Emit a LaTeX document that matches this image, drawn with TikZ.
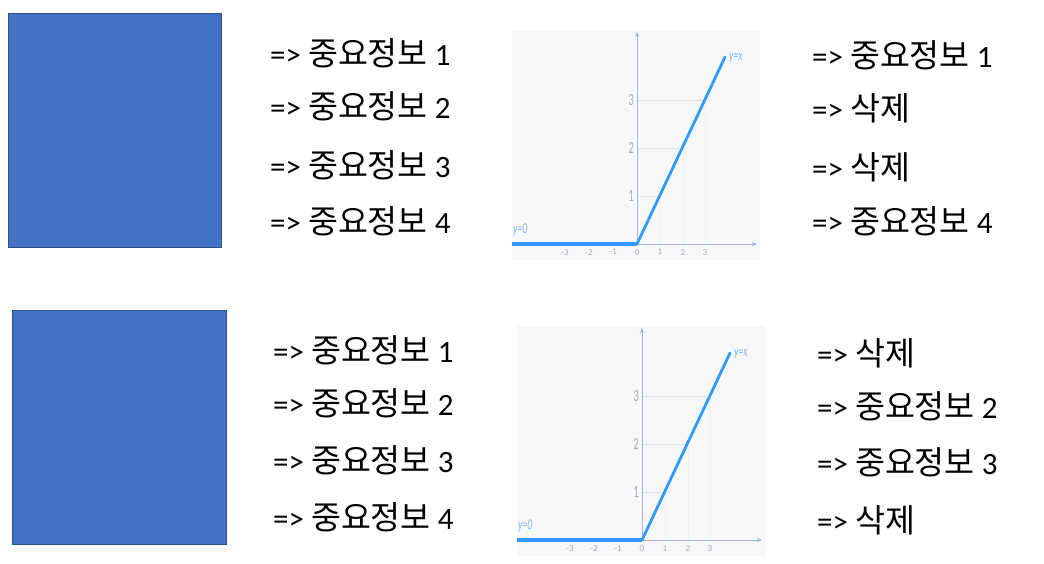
\documentclass[tikz,border=0pt]{standalone}
\usepackage{fontspec}
\setmainfont{Carlito}
\newfontfamily\kr{Noto Sans CJK KR}[Scale=1.05]
\usetikzlibrary{arrows.meta}
\definecolor{boxfill}{HTML}{4472C4}
\definecolor{boxline}{HTML}{2F528F}
\definecolor{relu}{HTML}{3399FF}
\definecolor{reluLbl}{HTML}{7FB8F0}
\definecolor{axisc}{HTML}{A8B4C8}
\definecolor{gridc}{HTML}{DCE2EA}
\definecolor{gridv}{HTML}{ECEFF3}
\definecolor{tickc}{HTML}{A4ACBA}
\definecolor{bgc}{HTML}{F7F7F7}
\begin{document}
\begin{tikzpicture}[x=1pt,y=-1pt,
  blk/.style={draw=boxline, line width=1pt, fill=boxfill, anchor=north west, inner sep=0pt},
  txt/.style={anchor=base west, inner sep=0pt, font=\fontsize{31}{36}\selectfont},
  ticklbl/.style={inner sep=0pt, text=tickc, font=\fontsize{17}{17}\selectfont},
  xticklbl/.style={inner sep=0pt, text=tickc, font=\fontsize{9}{9}\selectfont},
  fnlbl/.style={inner sep=0pt, text=reluLbl, font=\fontsize{15}{15}\selectfont\itshape},
  axisline/.style={draw=axisc, line width=0.8pt, -{Stealth[length=5pt,width=4pt]}},
  gridline/.style={draw=gridc, line width=0.6pt},
  gridvline/.style={draw=gridv, line width=0.5pt}]
\useasboundingbox (0,0) rectangle (1044,563);

% blue boxes
\node[blk, minimum width=213pt, minimum height=234pt] (box1) at (8,13) {};
\node[blk, minimum width=214pt, minimum height=234pt] (box2) at (12,310) {};

% top-left texts
\node[txt] (tl1) at (270,65) {=> {\kr 중요정보} 1};
\node[txt] (tl2) at (270,118) {=> {\kr 중요정보} 2};
\node[txt] (tl3) at (270,177) {=> {\kr 중요정보} 3};
\node[txt] (tl4) at (270,233) {=> {\kr 중요정보} 4};
% top-right texts
\node[txt] (tr1) at (812,67) {=> {\kr 중요정보} 1};
\node[txt] (tr2) at (812,120) {=> {\kr 삭제}};
\node[txt] (tr3) at (812,179) {=> {\kr 삭제}};
\node[txt] (tr4) at (812,233) {=> {\kr 중요정보} 4};
% bottom-left texts
\node[txt] (bl1) at (273,362) {=> {\kr 중요정보} 1};
\node[txt] (bl2) at (273,415) {=> {\kr 중요정보} 2};
\node[txt] (bl3) at (273,472) {=> {\kr 중요정보} 3};
\node[txt] (bl4) at (273,529) {=> {\kr 중요정보} 4};
% bottom-right texts
\node[txt] (br1) at (817,365) {=> {\kr 삭제}};
\node[txt] (br2) at (817,418) {=> {\kr 중요정보} 2};
\node[txt] (br3) at (817,474) {=> {\kr 중요정보} 3};
\node[txt] (br4) at (817,532) {=> {\kr 삭제}};

% ReLU graphs
\foreach \ox/\oy/\g in {637/244/a, 642/540/b}{
\begin{scope}[shift={(\ox,\oy)}]
  \fill[bgc] (-125,-214) rectangle (123,16);
  \draw[gridvline] (23,0) -- (23,-48) (46,0) -- (46,-96) (68,0) -- (68,-144);
  \draw[gridline] (0,-48) -- (23,-48) (0,-96) -- (46,-96) (0,-144) -- (68,-144);
  \draw[axisline] (-125,0) -- (120,0);
  \draw[axisline] (0,0) -- (0,-212);
  \foreach \v/\xx in {-3/-72,-2/-48,-1/-24,0/0,1/23,2/46,3/68}
    \node[xticklbl, anchor=north] at (\xx,5) {\v};
  \node[ticklbl, anchor=east] (\g t1) at (-3,-48) {\scalebox{0.6}[1]{1}};
  \node[ticklbl, anchor=east] (\g t2) at (-3,-96) {\scalebox{0.6}[1]{2}};
  \node[ticklbl, anchor=east] (\g t3) at (-3,-144) {\scalebox{0.6}[1]{3}};
  \draw[relu, line width=4pt] (-125,0) -- (0,0);
  \draw[relu, line width=2.8pt, line cap=round] (0,0) -- (88,-187);
  \node[fnlbl, anchor=south west] (\g y0) at (-124,-8) {\scalebox{0.65}[1]{y=0}};
  \node[fnlbl, anchor=west] (\g yx) at (92,-186) {\scalebox{0.65}[1]{y=x}};
\end{scope}
}
\end{tikzpicture}
\end{document}
